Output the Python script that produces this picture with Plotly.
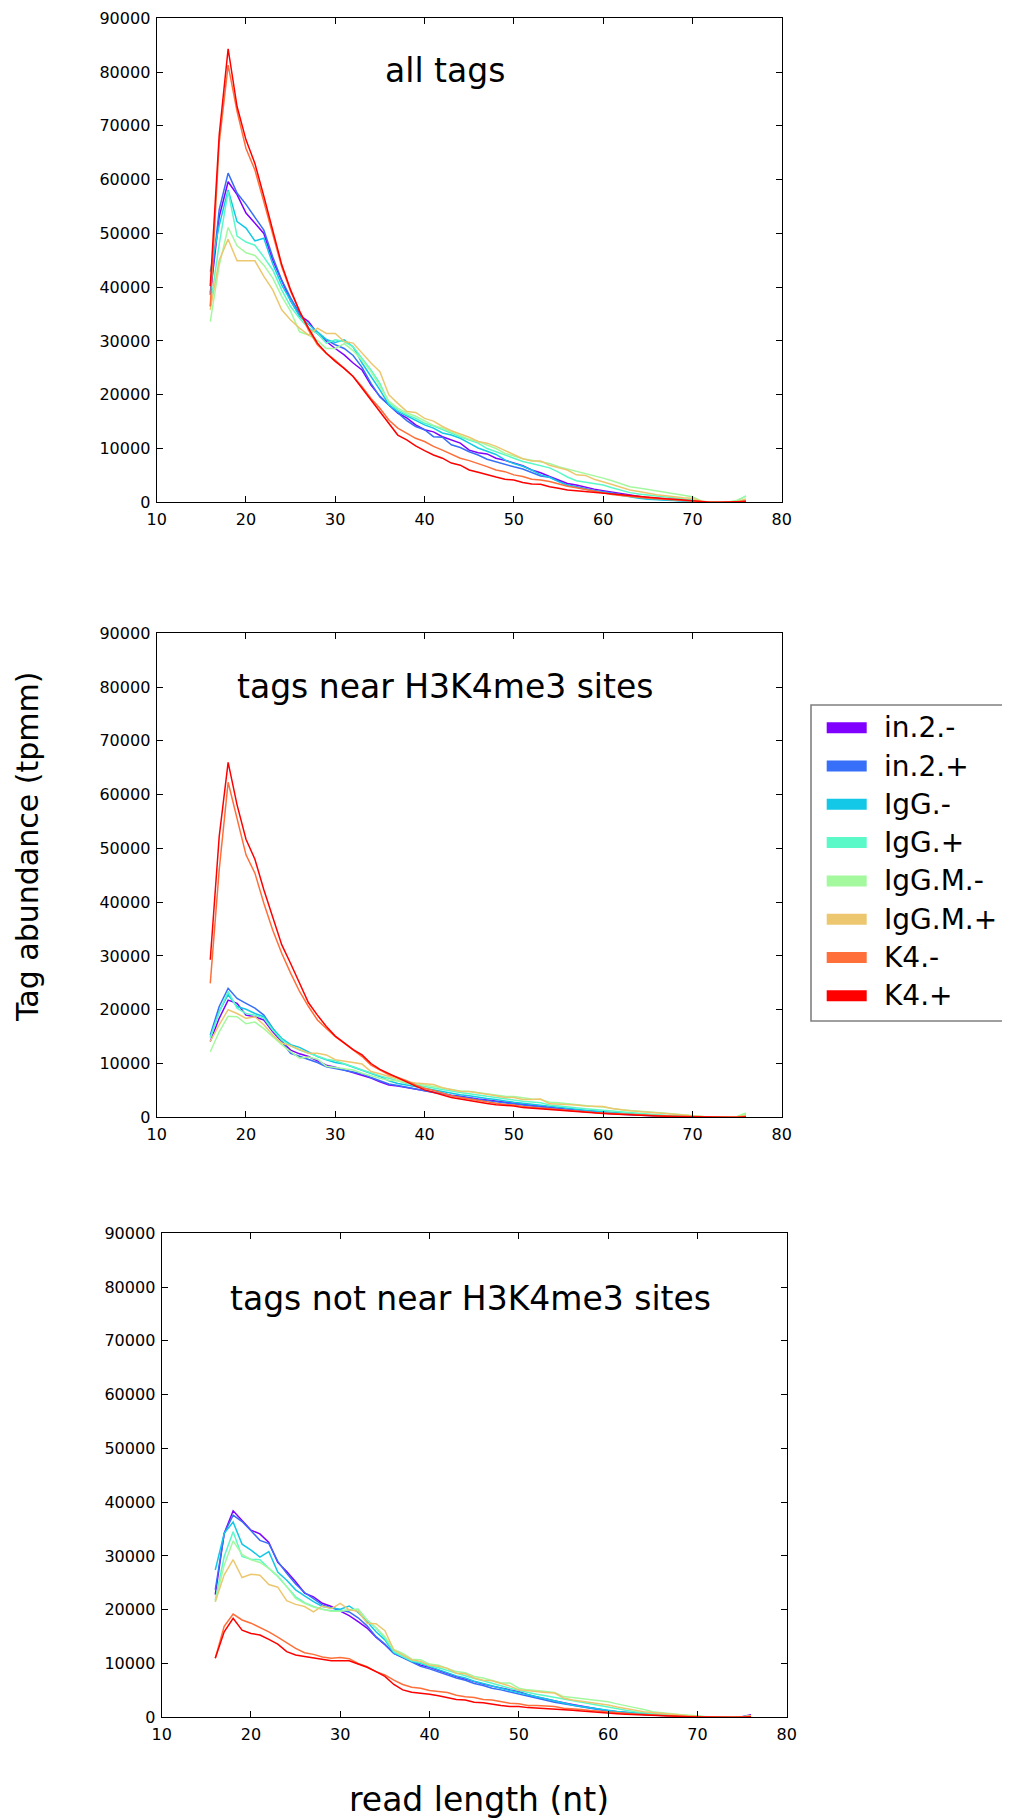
import plotly.graph_objects as go

# ---------------- data ----------------
read_length = list(range(16, 77))
x_ticks = [10, 20, 30, 40, 50, 60, 70, 80]
y_ticks = [0, 10000, 20000, 30000, 40000, 50000, 60000, 70000, 80000, 90000]

series_names = ["in.2.-", "in.2.+", "IgG.-", "IgG.+", "IgG.M.-", "IgG.M.+", "K4.-", "K4.+"]
series_colors = ["#8000ff", "#376ff9", "#12c8e6", "#5bf9c7", "#a4f99f", "#edc76f", "#ff6f39", "#ff0000"]
panel_titles = ["all tags", "tags near H3K4me3 sites", "tags not near H3K4me3 sites"]

# ---- panel 1: all tags ----
all_in2m = [38600, 53100, 59600, 57200, 53800, 51900, 50000, 45000, 41300, 37500,
            34800, 33600, 31400, 29900, 28600, 27400, 25900, 24600, 21800, 19700,
            18100, 16600, 15700, 14400, 13500, 13100, 12200, 11600, 11000, 9700,
            9200, 9000, 8200, 7800, 7250, 6800, 6000, 5500, 4800, 4150,
            3500, 3200, 2800, 2450, 2170, 1900, 1650, 1400, 1100, 870,
            750, 600, 480, 380, 250, 80, 30, 20, 20, 50, 250]
all_in2p = [39000, 54400, 61200, 57500, 55400, 53100, 50600, 45600, 41300, 38000,
            35100, 32400, 31400, 30200, 29300, 28600, 27300, 25100, 22100, 19600,
            18100, 16600, 15200, 14100, 13500, 12200, 12100, 10700, 10200, 9400,
            8800, 8000, 7500, 7100, 6600, 6200, 5500, 4900, 4650, 3850,
            3200, 2900, 2500, 2200, 1980, 1700, 1450, 1200, 900, 680,
            560, 450, 350, 250, 180, 60, 30, 20, 20, 40, 200]
all_iggm = [42900, 51500, 58100, 52200, 51000, 48600, 49100, 44300, 40400, 37400,
            34600, 33100, 31700, 30300, 29700, 30200, 28900, 25900, 23400, 20900,
            18100, 16900, 16100, 15200, 14400, 13800, 12900, 12500, 11900, 11000,
            10100, 9500, 8900, 7900, 7200, 6700, 6000, 5100, 4650, 3850,
            3200, 2800, 2400, 2100, 1860, 1550, 1250, 1000, 750, 560,
            450, 380, 300, 220, 150, 50, 20, 20, 20, 80, 400]
all_iggp = [36500, 48000, 57800, 49500, 48400, 47800, 45600, 43200, 39500, 36400,
            34200, 32400, 31400, 29600, 30200, 29900, 28900, 26800, 24600, 22100,
            18500, 17200, 16300, 15600, 14700, 14200, 13500, 12800, 12200, 11600,
            11000, 10000, 9400, 8800, 8200, 7600, 7200, 6800, 6400, 5600,
            4700, 4000, 3700, 3400, 3200, 2700, 2200, 1800, 1550, 1360,
            1150, 950, 800, 620, 450, 100, 30, 20, 30, 300, 1200]
all_iggmm = [33600, 44000, 51100, 47700, 46400, 45900, 44100, 41700, 38300, 35500,
             31700, 31100, 30100, 28600, 28600, 29500, 28200, 26400, 24300, 21600,
             18800, 17500, 16600, 16000, 15100, 14300, 13800, 13100, 12500, 11700,
             11300, 10700, 10000, 9100, 8600, 8100, 7800, 7500, 7200, 6600,
             6200, 5700, 5400, 5000, 4500, 4000, 3500, 2900, 2650, 2400,
             2100, 1800, 1550, 1300, 1050, 250, 30, 20, 30, 400, 1100]
all_iggmp = [35800, 45000, 48900, 44900, 44900, 44900, 42000, 39500, 35800, 33900,
             32400, 31100, 32400, 31400, 31400, 29900, 29600, 27700, 25900, 24300,
             20000, 18400, 16900, 16700, 15600, 15100, 14100, 13300, 12700, 12100,
             11300, 11000, 10400, 9600, 8800, 8100, 7700, 7700, 6900, 6500,
             6000, 5100, 5000, 4300, 3850, 3300, 2800, 2300, 2000, 1670,
             1400, 1200, 1000, 850, 750, 200, 30, 20, 20, 150, 600]
all_k4m = [36400, 66800, 81300, 72700, 65800, 61800, 55900, 50000, 43800, 39200,
           35500, 32000, 29300, 27700, 26400, 24900, 23400, 21500, 19300, 17500,
           15300, 13800, 12800, 11900, 11300, 10400, 9700, 9000, 8200, 7750,
           7250, 6630, 6000, 5700, 5100, 4800, 4300, 4150, 3850, 3400,
           3000, 2700, 2400, 2000, 1670, 1450, 1250, 1050, 900, 750,
           650, 550, 450, 350, 250, 60, 20, 20, 20, 50, 300]
all_k4p = [40200, 68300, 84300, 73600, 67400, 63000, 56900, 50600, 44200, 39500,
           35500, 32400, 29600, 27700, 26200, 24900, 23400, 21200, 19000, 16900,
           14700, 12500, 11600, 10500, 9600, 8800, 8200, 7300, 6900, 6000,
           5600, 5100, 4700, 4300, 4150, 3700, 3400, 3350, 2900, 2600,
           2300, 2150, 2000, 1800, 1670, 1450, 1300, 1150, 1000, 870,
           750, 650, 550, 420, 310, 80, 30, 20, 20, 30, 150]

# ---- panel 2: tags near H3K4me3 sites ----
near_in2m = [14100, 18400, 21800, 21200, 19000, 18700, 18100, 15900, 14100, 12500,
             11800, 11300, 10500, 9700, 9300, 8800, 8400, 7900, 7300, 6600,
             6000, 5800, 5500, 5200, 4900, 4600, 4400, 4100, 3900, 3600,
             3400, 3200, 3000, 2800, 2600, 2400, 2200, 2100, 1900, 1700,
             1500, 1350, 1200, 1050, 900, 780, 650, 550, 450, 380,
             300, 240, 180, 130, 90, 20, 10, 10, 10, 30, 200]
near_in2p = [15300, 20600, 24000, 22100, 21200, 20300, 19000, 16500, 14100, 11900,
             11300, 10700, 10200, 9400, 9100, 8800, 8500, 8100, 7400, 6800,
             6200, 5900, 5600, 5200, 4900, 4600, 4500, 4000, 3800, 3500,
             3300, 3100, 2900, 2700, 2500, 2300, 2100, 1900, 1700, 1400,
             1300, 1150, 1000, 880, 750, 650, 550, 450, 380, 300,
             240, 190, 140, 100, 70, 20, 10, 10, 10, 30, 150]
near_iggm = [15000, 19700, 22800, 20600, 20100, 19300, 18700, 16500, 14700, 13500,
             13000, 12200, 11300, 10700, 10200, 9900, 9300, 8800, 8200, 7600,
             6800, 6300, 6000, 5700, 5400, 5000, 4800, 4500, 4200, 4000,
             3700, 3500, 3300, 3000, 2800, 2600, 2400, 2300, 2000, 1800,
             1600, 1450, 1300, 1150, 1000, 850, 720, 600, 500, 400,
             320, 250, 190, 140, 100, 20, 10, 10, 10, 40, 250]
near_iggp = [14800, 19500, 23400, 20300, 19300, 19000, 18400, 16200, 14400, 13300,
             12500, 11900, 11400, 10800, 10500, 10000, 9400, 8800, 8200, 7700,
             7250, 6800, 6300, 6000, 5700, 5400, 5100, 4800, 4600, 4400,
             4100, 3900, 3700, 3400, 3200, 3000, 2800, 2700, 2300, 2100,
             1900, 1750, 1600, 1450, 1300, 1100, 950, 800, 700, 600,
             480, 380, 300, 220, 150, 30, 10, 10, 10, 100, 500]
near_iggmm = [12200, 15900, 18800, 18700, 17400, 17700, 16500, 15000, 13500, 12200,
              11000, 11200, 10800, 9500, 9300, 9100, 8800, 8200, 7700, 7250,
              6900, 6800, 6400, 6300, 6000, 5700, 5400, 5100, 4900, 4800,
              4600, 4400, 4100, 3900, 3850, 3600, 3400, 3300, 2800, 2700,
              2500, 2300, 2150, 2000, 1900, 1600, 1400, 1250, 1150, 1050,
              900, 750, 600, 450, 300, 50, 10, 10, 20, 150, 800]
near_iggmp = [14100, 17200, 20000, 19300, 18400, 18700, 17200, 15300, 13800, 13300,
              12600, 11900, 11900, 11600, 10700, 10500, 10200, 9900, 8500, 8100,
              7600, 7100, 6600, 6400, 6200, 6100, 5500, 5200, 4800, 4800,
              4600, 4300, 4000, 3700, 3700, 3300, 3300, 3400, 2500, 2500,
              2400, 2300, 2100, 2050, 2000, 1650, 1360, 1200, 1100, 1000,
              850, 700, 550, 400, 250, 40, 10, 10, 10, 80, 400]
near_k4m = [24900, 46000, 62300, 55300, 48800, 45400, 39800, 34800, 30500, 26800,
            23400, 20600, 18100, 16500, 15000, 13800, 12500, 11300, 9700, 8800,
            7900, 7400, 6800, 6000, 5400, 5000, 4500, 4000, 3700, 3400,
            3100, 2800, 2600, 2400, 2300, 2000, 1850, 1750, 1550, 1400,
            1250, 1150, 1000, 900, 800, 700, 600, 500, 420, 350,
            280, 220, 170, 120, 80, 20, 10, 10, 10, 20, 150]
near_k4p = [29300, 52200, 66000, 58100, 51700, 48000, 42300, 37000, 32100, 28600,
            24900, 21300, 19000, 16900, 15100, 13800, 12600, 11600, 10000, 8900,
            8100, 7250, 6500, 5800, 5100, 4600, 4150, 3700, 3400, 3100,
            2800, 2550, 2350, 2200, 2100, 1800, 1670, 1550, 1360, 1240,
            1100, 1000, 900, 800, 700, 600, 500, 420, 350, 280,
            230, 180, 140, 100, 70, 20, 10, 10, 10, 20, 100]

# ---- panel 3: tags not near H3K4me3 sites ----
far_in2m = [22800, 34200, 38400, 36600, 34800, 34100, 32500, 28800, 27100, 25200,
            23100, 22400, 21200, 20600, 19700, 18900, 17800, 16600, 14900, 13500,
            11900, 11200, 10400, 9700, 9300, 8700, 8100, 7600, 7100, 6600,
            6200, 5800, 5400, 5100, 4800, 4200, 3800, 3400, 3000, 2700,
            2400, 2100, 1800, 1500, 1240, 1050, 900, 750, 600, 450,
            350, 270, 200, 140, 90, 20, 10, 10, 10, 100, 500]
far_in2p = [23700, 34200, 37600, 36400, 34700, 32900, 32300, 29000, 26800, 24800,
            23200, 22000, 20900, 20300, 20000, 19600, 18500, 17000, 15000, 13600,
            11900, 11100, 10300, 9500, 9000, 8400, 7900, 7300, 6900, 6300,
            5900, 5400, 5100, 4700, 4400, 4000, 3600, 3200, 2800, 2500,
            2200, 1900, 1650, 1400, 1150, 950, 800, 650, 520, 400,
            300, 230, 170, 120, 80, 20, 10, 10, 10, 60, 300]
far_iggm = [27400, 34200, 36300, 32200, 31100, 29800, 30800, 27000, 25500, 23700,
            22600, 21500, 20600, 20300, 20100, 20700, 19500, 17800, 15900, 14400,
            12000, 11300, 10400, 10000, 9400, 8800, 8300, 7700, 7300, 6700,
            6300, 5800, 5400, 5000, 4600, 4200, 3800, 3400, 3000, 2600,
            2300, 2000, 1750, 1500, 1300, 1100, 950, 800, 650, 500,
            380, 290, 210, 150, 100, 20, 10, 10, 10, 60, 300]
far_iggp = [21800, 29900, 34500, 29900, 29400, 29300, 27700, 26200, 24300, 22400,
            21300, 20600, 20100, 19800, 19800, 20000, 20100, 18100, 16600, 14700,
            12200, 11300, 10500, 10200, 9600, 9200, 8700, 8100, 7700, 7200,
            6800, 6300, 5900, 5400, 5000, 4600, 4300, 4000, 3700, 3300,
            3000, 2700, 2400, 2100, 1800, 1500, 1300, 1050, 850, 650,
            500, 380, 280, 200, 130, 30, 10, 10, 10, 80, 300]
far_iggmm = [21500, 28300, 32800, 30300, 29300, 28800, 27700, 26300, 24300, 22100,
             21200, 20500, 20100, 19700, 19700, 20000, 20100, 18100, 16700, 15000,
             12600, 11900, 10800, 10700, 9900, 9700, 9100, 8500, 8300, 7600,
             7300, 6900, 6400, 6400, 5400, 5100, 5000, 4800, 4600, 3850,
             3700, 3500, 3300, 3100, 2900, 2500, 2100, 1800, 1450, 1050,
             850, 650, 500, 400, 300, 40, 10, 10, 10, 60, 300]
far_iggmp = [21500, 26500, 29300, 26000, 26600, 26400, 24700, 24200, 21700, 21000,
             20600, 19600, 20700, 20200, 21200, 20000, 19700, 17500, 17400, 16100,
             12500, 11600, 10700, 10400, 9700, 9500, 9100, 8200, 8100, 7300,
             6900, 6800, 6300, 5800, 5100, 4900, 4800, 4600, 4500, 3600,
             3200, 2950, 2700, 2500, 2300, 1900, 1600, 1300, 1050, 870,
             700, 550, 400, 300, 200, 30, 10, 10, 10, 60, 300]
far_k4m = [11000, 16900, 19200, 18100, 17500, 16700, 15900, 14900, 13900, 12800,
           12000, 11700, 11200, 11000, 11100, 10900, 10000, 9400, 8500, 7900,
           6900, 6100, 5600, 5400, 5000, 4800, 4600, 4100, 3800, 3700,
           3300, 3200, 2900, 2600, 2500, 2200, 2200, 2100, 2000, 1700,
           1600, 1450, 1250, 1100, 930, 800, 700, 600, 500, 400,
           330, 260, 200, 140, 90, 20, 10, 10, 10, 30, 150]
far_k4p = [11000, 15900, 18400, 16200, 15600, 15300, 14500, 13600, 12200, 11600,
           11300, 11000, 10700, 10500, 10500, 10500, 9900, 9300, 8500, 7600,
           6100, 5100, 4650, 4500, 4300, 4000, 3700, 3300, 3200, 2800,
           2700, 2400, 2200, 2000, 2000, 1800, 1700, 1700, 1550, 1400,
           1300, 1150, 1000, 850, 740, 650, 560, 480, 400, 320,
           260, 200, 150, 100, 70, 20, 10, 10, 10, 20, 80]

panel_data = [
    [all_in2m, all_in2p, all_iggm, all_iggp, all_iggmm, all_iggmp, all_k4m, all_k4p],
    [near_in2m, near_in2p, near_iggm, near_iggp, near_iggmm, near_iggmp, near_k4m, near_k4p],
    [far_in2m, far_in2p, far_iggm, far_iggp, far_iggmm, far_iggmp, far_k4m, far_k4p],
]

# ---------------- layout geometry ----------------
# page pixel positions; the page body has an 8px margin, so the figure is offset by 8px
OFF = 8
W, H = 1010 - OFF, 1818 - OFF
FONT = "DejaVu Sans"


def fx(px):
    return (px - OFF) / W


def fy(py):
    return 1 - (py - OFF) / H


panels_px = [  # x0, x1, ytop, ybottom (page pixels)
    (156.7, 781.7, 18.3, 502.3),
    (156.7, 781.7, 633.3, 1117.3),
    (161.7, 786.7, 1233.3, 1717.3),
]
title_px = [(445, 70), (445, 686), (470, 1298)]

fig = go.Figure()
layout = dict(
    width=W, height=H,
    margin=dict(l=0, r=0, t=0, b=0, pad=0, autoexpand=False),
    paper_bgcolor="white", plot_bgcolor="white",
    showlegend=False,
    font=dict(family=FONT, color="black"),
)

annotations = []
shapes = []
for p, (x0, x1, yt, yb) in enumerate(panels_px):
    suffix = "" if p == 0 else str(p + 1)
    xa = "x" + suffix
    ya = "y" + suffix
    common = dict(
        showgrid=False, zeroline=False, showline=True, linecolor="black", linewidth=1.3,
        mirror="allticks", ticks="inside", ticklen=6, tickwidth=1, tickcolor="black",
        tickfont=dict(family=FONT, size=16, color="black"), automargin=False,
        ticklabelstandoff=2,
    )
    layout["xaxis" + suffix] = dict(
        domain=[fx(x0), fx(x1)], anchor=ya, range=[10, 80],
        tickmode="array", tickvals=x_ticks, ticktext=[str(v) for v in x_ticks], **common)
    layout["yaxis" + suffix] = dict(
        domain=[fy(yb), fy(yt)], anchor=xa, range=[0, 90000],
        tickmode="array", tickvals=y_ticks, ticktext=[str(v) for v in y_ticks], **common)
    for name, color, vals in zip(series_names, series_colors, panel_data[p]):
        fig.add_trace(go.Scatter(
            x=read_length, y=vals, mode="lines", name=name,
            line=dict(color=color, width=1.5), xaxis=xa, yaxis=ya,
            showlegend=False, hoverinfo="skip"))
    tx, ty = title_px[p]
    annotations.append(dict(
        text=panel_titles[p], xref="paper", yref="paper", x=fx(tx), y=fy(ty),
        xanchor="center", yanchor="middle", showarrow=False,
        font=dict(family=FONT, size=33, color="black")))

# axis titles
annotations.append(dict(
    text="Tag abundance (tpmm)", xref="paper", yref="paper", x=fx(27), y=fy(847),
    xanchor="center", yanchor="middle", textangle=-90, showarrow=False,
    font=dict(family=FONT, size=30, color="black")))
annotations.append(dict(
    text="read length (nt)", xref="paper", yref="paper", x=fx(479), y=fy(1799),
    xanchor="center", yanchor="middle", showarrow=False,
    font=dict(family=FONT, size=33, color="black")))

# manual legend (box runs past the right edge, as in the original)
lx0, lx1, ly0, ly1 = 811, 1030, 705, 1021
shapes.append(dict(type="rect", xref="paper", yref="paper",
                   x0=fx(lx0), x1=fx(lx1), y0=fy(ly1), y1=fy(ly0),
                   line=dict(color="#808080", width=1.6), fillcolor="white"))
for i, (name, color) in enumerate(zip(series_names, series_colors)):
    cy = 727.7 + 38.3 * i
    shapes.append(dict(type="rect", xref="paper", yref="paper",
                       x0=fx(826.7), x1=fx(866.7), y0=fy(cy + 5.5), y1=fy(cy - 5.5),
                       line=dict(width=0), fillcolor=color))
    annotations.append(dict(
        text=name, xref="paper", yref="paper", x=fx(882), y=fy(cy),
        xanchor="left", yanchor="middle", showarrow=False,
        font=dict(family=FONT, size=28, color="black")))

layout["annotations"] = annotations
layout["shapes"] = shapes
fig.update_layout(**layout)
fig.write_html("out.html")
